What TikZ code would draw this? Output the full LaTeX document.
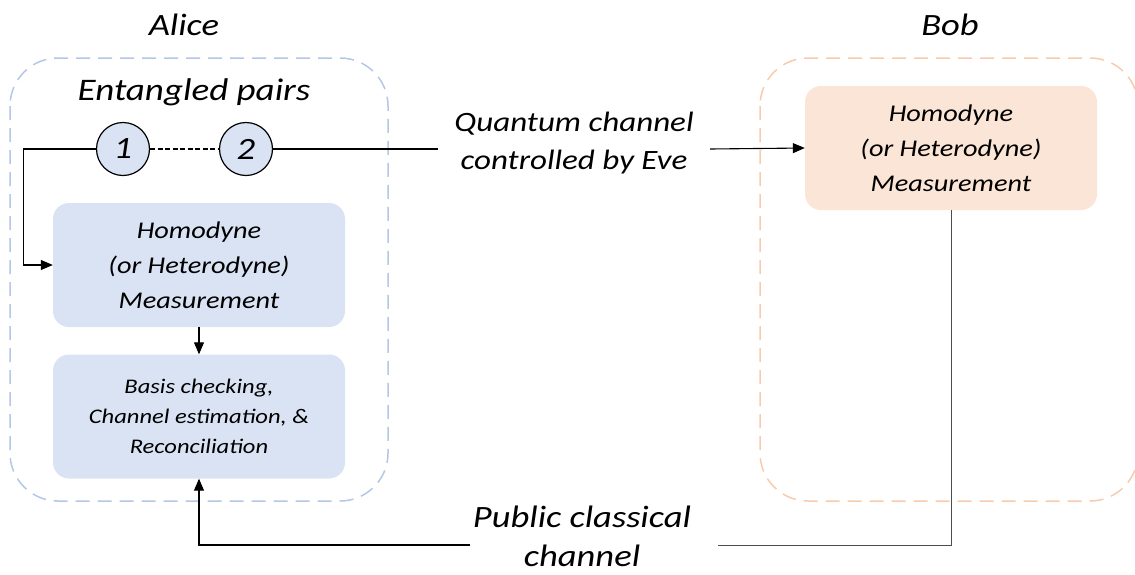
\documentclass[tikz,border=0pt]{standalone}
\usepackage{fontspec}
\setmainfont{Carlito}[FakeStretch=1.18]
\usetikzlibrary{arrows.meta}
\definecolor{aliceline}{HTML}{B4C7E7}
\definecolor{alicefill}{HTML}{DAE3F3}
\definecolor{bobline}{HTML}{F8CBAD}
\definecolor{bobfill}{HTML}{FBE5D6}
\tikzset{
  outer/.style={rounded corners=48pt, line width=1.5pt, dash pattern=on 14pt off 8pt},
  procbox/.style={rounded corners=16pt, minimum width=292pt, minimum height=124pt, align=center, inner sep=0pt},
  pair/.style={circle, draw=black, fill=alicefill, line width=1.2pt, minimum size=53pt, inner sep=0pt, font=\fontsize{31}{31}\selectfont\itshape},
  conn/.style={line width=1.1pt, black},
  tip/.style={-{Triangle[length=12pt,width=10pt]}},
  lbl/.style={align=center, inner sep=0pt},
}
\begin{document}
\begin{tikzpicture}[x=1pt,y=-1pt]
\useasboundingbox (0,0) rectangle (1135,574);
% outer dashed regions
\draw[outer, draw=aliceline] (10,58) rectangle (388,501);
\begin{scope}
\clip (0,0) rectangle (1135,574);
\draw[outer, draw=bobline] (760,58) rectangle (1138,501);
\end{scope}
% titles
\node[lbl, font=\fontsize{31}{31}\selectfont\itshape] (alice) at (184,25) {Alice};
\node[lbl, font=\fontsize{31}{31}\selectfont\itshape] (bob) at (950,25) {Bob};
\node[lbl, font=\fontsize{31.4}{31}\selectfont\itshape] (ent) at (194,92) {Entangled pairs};
% pair
\node[pair] (c1) at (123,149) {1};
\node[pair] (c2) at (246,149) {2};
\draw[line width=2pt, dash pattern=on 5pt off 2.5pt] (c1.east) -- (c2.west);
% boxes
\node[procbox, fill=alicefill, font=\fontsize{24}{35}\selectfont\itshape] (ahom) at (199,265) {Homodyne\\(or Heterodyne)\\Measurement};
\node[procbox, fill=alicefill, font=\fontsize{20.8}{30}\selectfont\itshape] (basis) at (199,416.5) {Basis checking,\\Channel estimation, \&\\Reconciliation};
\node[procbox, fill=bobfill, font=\fontsize{24}{35}\selectfont\itshape] (bhom) at (951,148) {Homodyne\\(or Heterodyne)\\Measurement};
% channel labels
\node[lbl, font=\fontsize{28}{38}\selectfont\itshape] (qch) at (574,143) {Quantum channel\\controlled by Eve};
\node[lbl, font=\fontsize{31}{39}\selectfont\itshape] (pch) at (582,536) {Public classical\\channel};
\coordinate (qa) at (438,149);
\coordinate (qb) at (710,149);
\coordinate (pa) at (718,545);
\coordinate (pb) at (470,545);
% connectors
\draw[conn, tip] (c1.west) -- ++(-72,0) |- (ahom.west);
\draw[conn] (c2.east) -- (qa);
\draw[conn, tip] (qb) -- (bhom.west);
\draw[conn, tip] (ahom.south) -- (basis.north);
\draw[line width=0.9pt, black!70] (bhom.south) |- (pa);
\draw[conn, tip] (pb) -| (basis.south);
\end{tikzpicture}
\end{document}
